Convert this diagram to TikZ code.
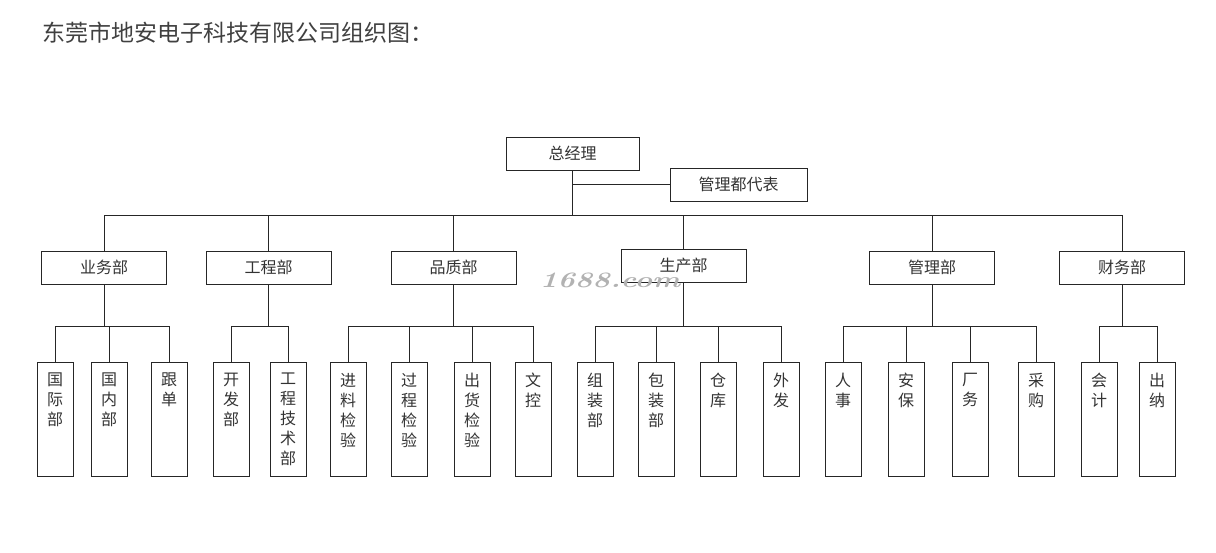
\documentclass[tikz,border=0pt]{standalone}
\usepackage{fontspec}
\newfontfamily\cjk{Noto Sans CJK SC}
\newcommand{\vlabel}[1]{\parbox[c][114pt][t]{36pt}{\centering\vspace*{11pt}#1}}
\begin{document}
\begin{tikzpicture}[x=1pt,y=-1pt,
unit/.style={draw=black!85, minimum width=125pt, minimum height=33pt, inner sep=0pt,
  font=\cjk\fontsize{16}{20}\selectfont, text=black!80},
leaf/.style={draw=black!85, inner sep=0pt, anchor=north,
  font=\cjk\fontsize{16}{20}\selectfont, text=black!80},
link/.style={draw=black!85, line width=0.8pt}
]
\useasboundingbox (0,0) rectangle (1216,553);

\node[anchor=west, inner sep=0pt, font=\cjk\fontsize{23}{26}\selectfont, text=black!75] (title) at (42,33) {东莞市地安电子科技有限公司组织图：};

\node[unit, minimum width=133pt] (ceo) at (572.5,153.5) {总经理};
\node[unit, minimum width=137pt] (rep) at (738.5,184.5) {管理都代表};

\coordinate (bus) at (0,215);
\coordinate (sub) at (0,326);

\node[unit] (sales) at (104,267.5) {业务部};
\node[unit] (eng) at (268.5,267.5) {工程部};
\node[unit] (qc) at (453.5,267.5) {品质部};
\node[unit] (prod) at (683.5,265.5) {生产部};
\node[unit] (admin) at (932,267.5) {管理部};
\node[unit] (fin) at (1122,267.5) {财务部};

\draw[link] (ceo.south) -- (ceo|-bus);
\draw[link] (ceo.south|-rep.west) -- (rep.west);
\draw[link] (sales.north|-bus) -- (fin.north|-bus);
\foreach \dep in {sales,eng,qc,prod,admin,fin}
  \draw[link] (\dep.north) -- (\dep|-bus);

\foreach \x/\nm/\txt in {55/sales1/{国\\际\\部}, 109/sales2/{国\\内\\部}, 169/sales3/{跟\\单},
  231/eng1/{开\\发\\部}, 288/eng2/{工\\程\\技\\术\\部},
  348/qc1/{进\\料\\检\\验}, 409/qc2/{过\\程\\检\\验}, 472/qc3/{出\\货\\检\\验}, 533/qc4/{文\\控},
  595/prod1/{组\\装\\部}, 656/prod2/{包\\装\\部}, 718/prod3/{仓\\库}, 781/prod4/{外\\发},
  843/admin1/{人\\事}, 906/admin2/{安\\保}, 970/admin3/{厂\\务}, 1036/admin4/{采\\购},
  1099/fin1/{会\\计}, 1157/fin2/{出\\纳}}{
  \node[leaf] (\nm) at (\x,362) {\vlabel{\txt}};
  \draw[link] (\nm.north) -- (\nm|-sub);
}

\foreach \dep/\a/\b in {sales/sales1/sales3, eng/eng1/eng2, qc/qc1/qc4,
  prod/prod1/prod4, admin/admin1/admin4, fin/fin1/fin2}
  \draw[link] (\dep.south) -- (\dep|-sub) (\a|-sub) -- (\b|-sub);

% watermark
\node[font=\bfseries\itshape\fontsize{22}{22}\selectfont, text=black!30, xscale=1.35, inner sep=0pt] (mark) at (610,280) {1688.com};

\end{tikzpicture}
\end{document}
